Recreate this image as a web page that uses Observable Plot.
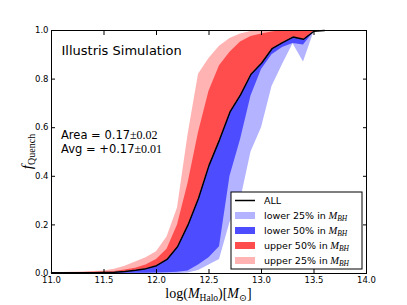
<!DOCTYPE html>
<html><head><meta charset="utf-8">
<script src="https://cdn.jsdelivr.net/npm/d3@7"></script>
<script src="https://cdn.jsdelivr.net/npm/@observablehq/plot@0.6"></script>
<style>body{margin:0;background:#fff} svg{display:block}</style>
</head><body><div id="chart"></div>
<script>
const logM =     [11.0, 11.1, 11.2, 11.3, 11.4, 11.5, 11.6, 11.7, 11.8, 11.9, 12.0, 12.1, 12.2, 12.3, 12.4, 12.5, 12.6, 12.7, 12.8, 12.9, 13.0, 13.1, 13.2, 13.3, 13.4, 13.5, 13.6];
const fAll =     [0.003,0.003,0.003,0.003,0.003,0.004,0.005,0.008,0.013,0.020,0.032,0.058,0.110,0.200,0.310,0.445,0.550,0.665,0.735,0.820,0.865,0.925,0.950,0.973,0.964,0.997,1.0];
const fLower25 = [0.0,  0.0,  0.0,  0.0,  0.0,  0.0,  0.0,  0.0,  0.0,  0.0,  0.0,  0.0,  0.0,  0.002,0.012,0.035,0.058,0.210,0.300,0.500,0.600,0.770,0.860,0.945,0.870,0.995,1.0];
const fLower50 = [0.001,0.001,0.001,0.001,0.001,0.001,0.001,0.001,0.001,0.001,0.002,0.003,0.005,0.010,0.035,0.065,0.110,0.400,0.550,0.730,0.840,0.900,0.930,0.947,0.940,0.995,1.0];
const fUpper50 = [0.003,0.003,0.004,0.004,0.005,0.006,0.008,0.014,0.022,0.035,0.058,0.100,0.200,0.370,0.580,0.750,0.855,0.910,0.953,0.975,0.986,0.994,1.0,  1.0,  1.0,  1.0,  1.0];
const fUpper25 = [0.004,0.004,0.005,0.006,0.008,0.010,0.018,0.030,0.047,0.065,0.090,0.150,0.270,0.570,0.820,0.885,0.935,0.967,0.986,0.996,1.0,  1.0,  1.0,  1.0,  1.0,  1.0,  1.0];
const xTicks = [11.0, 11.5, 12.0, 12.5, 13.0, 13.5, 14.0];
const yTicks = [0.0, 0.2, 0.4, 0.6, 0.8, 1.0];
const legendLabels = ["ALL", "lower 25% in", "lower 50% in", "upper 50% in", "upper 25% in"];
const colors = ["#000000", "#b3b3ff", "#4d4dff", "#ff4d4d", "#ffb3b3"];

const data = logM.map((x, i) => ({x, all: fAll[i], l25: fLower25[i], l50: fLower50[i], u50: fUpper50[i], u25: fUpper25[i]}));
const W = 407, H = 305, mL = 51, mR = 41, mT = 30, mB = 32;
const fmt = d3.format(".1f");

const chart = Plot.plot({
  width: W, height: H,
  marginLeft: mL, marginRight: mR, marginTop: mT, marginBottom: mB,
  style: {fontFamily: "'DejaVu Sans', sans-serif", fontSize: "8.5px", background: "white", color: "black", overflow: "visible"},
  x: {domain: [11, 14]},
  y: {domain: [0, 1]},
  marks: [
    Plot.areaY(data, {x: "x", y1: "l25", y2: "all", fill: colors[1]}),
    Plot.areaY(data, {x: "x", y1: "l50", y2: "all", fill: colors[2]}),
    Plot.areaY(data, {x: "x", y1: "all", y2: "u25", fill: colors[4]}),
    Plot.areaY(data, {x: "x", y1: "all", y2: "u50", fill: colors[3]}),
    Plot.lineY(data, {x: "x", y: "all", stroke: "black", strokeWidth: 1.5}),
    Plot.frame({stroke: "black"}),
    Plot.axisX(xTicks, {anchor: "bottom", tickSize: -4, tickPadding: 7, tickFormat: fmt, label: null}),
    Plot.axisX(xTicks, {anchor: "top", tickSize: -4, tickFormat: () => "", label: null}),
    Plot.axisY(yTicks, {anchor: "left", tickSize: -4, tickPadding: 7, tickFormat: fmt, label: null}),
    Plot.axisY(yTicks, {anchor: "right", tickSize: -4, tickFormat: () => "", label: null}),
    Plot.text(["Illustris Simulation"], {frameAnchor: "top-left", dx: 10, dy: 20, fontSize: 13, textAnchor: "start", lineAnchor: "middle"})
  ]
});
document.getElementById("chart").appendChild(chart);

const svg = d3.select(chart);
const serif = "'Liberation Serif', 'DejaVu Serif', serif";
const sans = "'DejaVu Sans', sans-serif";

// stats annotation
const stats = [["Area = 0.17", "±0.02"], ["Avg = +0.17", "±0.01"]];
stats.forEach(([a, b], i) => {
  const t = svg.append("text").attr("x", mL + 10).attr("y", mT + 109 + i * 13.5)
    .attr("text-anchor", "start")
    .attr("font-family", sans).attr("font-size", 11.5).attr("fill", "black");
  t.append("tspan").text(a);
  t.append("tspan").attr("font-family", serif).attr("font-size", 12).text(b);
});

// x label
const xl = svg.append("text").attr("x", (mL + W - mR) / 2).attr("y", 298)
  .attr("text-anchor", "middle").attr("font-family", serif).attr("font-size", 14).attr("fill", "black");
xl.append("tspan").text("log(");
xl.append("tspan").attr("font-style", "italic").text("M");
xl.append("tspan").attr("font-size", 9.5).attr("dy", 3).text("Halo");
xl.append("tspan").attr("dy", -3).text(")[");
xl.append("tspan").attr("font-style", "italic").text("M");
xl.append("tspan").attr("font-size", 9.5).attr("dy", 3).text("⊙");
xl.append("tspan").attr("dy", -3).text("]");

// y label
const yl = svg.append("text").attr("transform", `translate(32,${(mT + H - mB) / 2}) rotate(-90)`)
  .attr("text-anchor", "middle").attr("font-family", serif).attr("font-size", 15).attr("fill", "black");
yl.append("tspan").attr("font-style", "italic").text("f");
yl.append("tspan").attr("font-size", 10).attr("dy", 3).text("Quench");

// legend
const lg = svg.append("g").attr("transform", "translate(231,192)");
lg.append("rect").attr("width", 131).attr("height", 77).attr("fill", "white").attr("stroke", "black");
legendLabels.forEach((lab, i) => {
  const cy = 8.5 + i * 15;
  if (i === 0) {
    lg.append("line").attr("x1", 4).attr("x2", 24).attr("y1", cy).attr("y2", cy).attr("stroke", "black").attr("stroke-width", 1.5);
  } else {
    lg.append("rect").attr("x", 4).attr("y", cy - 3.5).attr("width", 20).attr("height", 7).attr("fill", colors[i]);
  }
  const t = lg.append("text").attr("x", 33).attr("y", cy).attr("dy", "0.35em")
    .attr("text-anchor", "start")
    .attr("font-family", sans).attr("font-size", 9.5).attr("fill", "black");
  t.append("tspan").text(lab);
  if (i > 0) {
    t.append("tspan").attr("font-family", serif).attr("font-style", "italic").attr("font-size", 10.5).text(" M");
    t.append("tspan").attr("font-family", serif).attr("font-style", "italic").attr("font-size", 7.5).attr("dy", 2).text("BH");
  }
});
</script>
</body></html>
